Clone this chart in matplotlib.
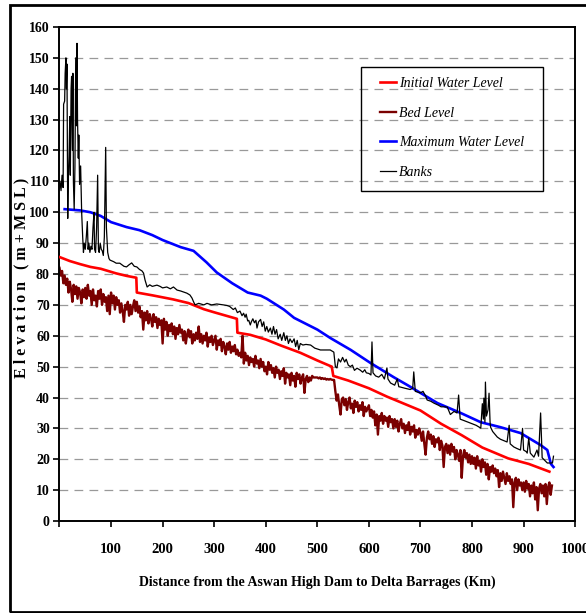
import matplotlib
matplotlib.use("Agg")
import matplotlib.pyplot as plt
from matplotlib.patches import Rectangle
import numpy as np

# distance (km) / elevation (m + MSL)
init_km = [0, 20, 40, 60, 80, 110, 130, 149, 150, 180, 220, 250, 280, 300, 344, 345,
           370, 400, 430, 467, 500, 528, 531, 560, 600, 635, 700, 740, 780, 820, 870, 910, 950]
init_wl = [85.5, 84.2, 83.2, 82.3, 81.7, 80.2, 79.4, 78.8, 74, 73.1, 71.8, 70.6, 68.6, 67.6, 65.5, 61,
           60.3, 58.8, 56.8, 54.5, 52, 50, 47, 45.5, 43, 40.3, 35.8, 31.5, 27.8, 23.8, 20.3, 18.5, 16]

max_km = [10, 40, 60, 80, 100, 130, 155, 180, 200, 235, 260, 285, 305, 335, 365, 390, 402,
          435, 455, 500, 525, 565, 603, 648, 675, 733, 778, 817, 855, 894, 933, 946, 953, 958]
max_wl = [101, 100.6, 100, 98.8, 96.8, 95.2, 94.2, 92.6, 91, 88.7, 87.5, 83.8, 80.5, 77, 74, 73, 72,
          68.5, 65.8, 62, 59.3, 55.4, 51.2, 46.6, 44, 38.2, 35, 32, 30.4, 28.5, 24.6, 23, 18.5, 17.5]

# bed level every 2.5 km from 0 to 955
bed = [82, 79.5, 81, 77, 79.5, 76.5, 78.5, 74, 77.5, 75, 71, 76.5, 73.5, 76, 72, 75.5, 74, 70.5, 75, 72.5,
       75.5, 72, 76.5, 73, 74.5, 70, 75, 71.5, 73, 69.5, 74.5, 72, 75, 70, 73.5, 71, 72.5, 68, 73, 67,
       74, 70.5, 73, 68.5, 72.5, 70, 71.5, 67.5, 70.5, 68, 64.5, 70, 68.5, 71, 66.5, 70, 67, 69.5, 71.5, 68,
       71, 67.5, 69.5, 66, 68, 62, 67.5, 65, 68, 64, 67, 65.5, 63, 67, 64.5, 66, 62.5, 65.5, 63.5, 65,
       57.5, 65.5, 62, 64.5, 60, 63.5, 61.5, 64, 60.5, 63, 59, 62.5, 60.5, 63.5, 61, 62, 58.5, 61.5, 57.5, 60.5,
       62, 59.5, 61.5, 57.5, 60.5, 58.5, 61, 59, 63, 58, 60.5, 57.5, 60, 58.5, 61, 56.5, 59.5, 58, 60, 57,
       58.5, 60, 55.5, 58.5, 57, 59, 55, 58, 56.5, 54, 57.5, 55.5, 58, 54.5, 56.5, 55, 57, 54, 55.5, 53.5,
       54.5, 53, 60, 51, 54.5, 52, 53.5, 50.5, 53, 51.5, 52.5, 50, 53.5, 51, 52, 49.5, 52.5, 50, 51.5, 48.5,
       50, 47.5, 51.5, 49, 50.5, 48, 49.5, 46.5, 50, 48, 49, 46, 48.5, 47, 49.5, 44.5, 48, 46.5, 47.5, 44,
       48, 45.5, 47, 43.5, 48, 46, 47.5, 44.5, 46.5, 47.5, 41.5, 46, 47, 45, 46.5, 45.5, 47, 46.5, 46.5, 46.5,
       46.5, 46.2, 46.5, 46, 46.3, 46, 46.2, 45.8, 46, 45.8, 46, 45.8, 45.7, 45.7, 42, 39, 41, 37.5, 34.5, 39.5,
       40, 37.5, 39.5, 36, 38.5, 40, 36.5, 38, 35, 39, 37, 38.5, 35.5, 37.5, 36, 38.5, 34, 37, 35.5, 36.5,
       37.5, 34, 36, 33.5, 35.5, 31, 34.5, 28, 34, 32.5, 35, 31.5, 34, 32.5, 33.5, 30.5, 34, 32, 33, 30,
       33, 30.5, 32.5, 29, 31.5, 33, 30, 31.5, 28.5, 31, 29.5, 32, 28, 30.5, 29, 31, 27, 29.5, 28, 30,
       28.5, 26, 29, 25, 21.5, 27, 29, 26.5, 28, 25, 27.5, 24, 26.5, 25.5, 27, 23, 26, 24.5, 17.5, 24,
       25, 22, 24.5, 21.5, 25, 22.5, 24, 20, 23, 21.5, 19.5, 23, 14, 21, 23, 20.5, 22, 19, 21.5, 18.5,
       21, 18.5, 20.5, 17, 21, 18, 19.5, 16, 20, 17.5, 19, 15, 18.5, 13.5, 17.5, 16, 18, 15.5, 17, 14.5,
       16.5, 11, 15.5, 13, 16, 14, 12, 15.5, 13, 14.5, 12, 13.5, 4.5, 12.5, 14, 10, 13.5, 11.5, 12.5, 10,
       12.5, 9.5, 13, 10.5, 12, 8, 11.5, 9, 12.5, 7, 11, 3.5, 10.5, 12, 9, 11.5, 8, 12, 5.5, 11,
       12.5, 8.5, 11.5]
bed_km = np.arange(len(bed)) * 2.5

banks_km = [1, 3, 5, 7, 8, 10, 11, 12.5, 13.5, 14.5, 16, 17, 18.5, 20, 21, 22.5, 23.5, 25, 26, 27,
            28.5, 30, 31.5, 33, 34, 35, 36.5, 37.5, 39, 41, 43, 45, 46.5, 48, 50, 52, 54, 55.5, 57,
            59, 61, 63, 65, 67, 68, 70, 72, 74, 75.5, 77, 79, 81, 83, 85, 87, 89.6, 91, 93.5, 96,
            98, 105, 110, 117, 125, 130, 135, 140, 145, 150, 155, 160, 163, 166, 170, 175, 180,
            189, 195, 200, 208, 215, 221, 228, 235, 240, 247, 253, 257, 260, 263, 270, 280, 286,
            295, 305, 318, 325, 330, 337, 341, 345, 350, 354, 357, 360, 362, 365, 367, 370, 372,
            375, 378, 381, 383, 386, 390, 393, 396, 399, 402, 405, 409, 412, 415, 418, 421, 424,
            428, 431, 435, 438, 441, 444, 447, 451, 455, 458, 461, 464, 467, 472, 478, 487, 495,
            506, 515, 525, 532, 535, 538, 541, 545, 549, 553, 556, 560, 564, 568, 572, 577, 583,
            588, 592, 595, 600, 604, 606, 608, 613, 619,
            625, 630, 635, 637, 642, 650, 655, 658, 661, 670, 680, 685, 687, 690, 700, 705, 710,
            713, 720, 726, 735, 740, 745, 752, 758, 765, 771, 774, 777, 785, 797, 808, 817, 820,
            822, 823, 825, 826, 828, 831, 833, 835, 836, 840, 849, 855, 862, 868, 872, 874, 881,
            887, 894, 898, 900, 905, 907, 910, 913, 920, 926, 929, 933, 936, 940, 946, 952, 956, 958]
banks = [110, 107, 112, 108, 135, 136, 145, 150, 140, 148, 98, 110, 118, 131, 112, 140, 144, 120, 145, 110,
         101, 115, 150, 128, 154.7, 130, 117.5, 125, 109, 115, 100, 92, 87, 90, 88, 92, 97, 88, 90,
         87, 89, 88, 95, 100, 88, 87, 95, 112, 88, 87, 90, 88, 87.5, 86, 92, 121, 95, 87, 85,
         84.5, 84, 83.5, 83.5, 82.5, 82.3, 83, 83.6, 82.5, 82.3, 81.5, 81, 80.3, 78, 75.8, 76.5, 76,
         76.4, 76, 75.5, 75.8, 75.2, 75.8, 74.8, 74.5, 74.2, 73.8, 73.2, 72.2, 71, 70, 70.5, 70, 70.5,
         70, 70.3, 70, 69.8, 69.5, 68.5, 69, 67.5, 68, 66.5, 67.3, 66, 67, 64.8, 65, 63.5, 64.5,
         65.5, 64.2, 65, 62.5, 64.5, 65.3, 63, 64.5, 61.5, 63, 61.2, 62.5, 60.5, 63, 60.5, 62, 59,
         60.5, 58.5, 61, 58.5, 60, 57.5, 59, 57.8, 59, 56.5, 58.5, 55.5, 57.5, 57, 57.2, 57, 56,
         55.4, 55.4, 55.4, 54.7, 50, 49.6, 52.5, 51.5, 53, 51.5, 52.4, 50.5, 50, 50.5, 48.8, 49.5, 48.9,
         48.2, 49, 48, 47.8, 47.3, 58, 48, 47, 46.6,
         47.5, 46, 49.6, 46, 44.7, 44, 46, 43.5, 43.4, 43, 42.6, 43, 48.3, 42, 41.5, 42, 40.5,
         39.2, 38.8, 38.2, 37.5, 37, 37, 36.9, 34.5, 35.5, 35, 40.8, 33, 32.5, 31.7, 31, 30.1, 38,
         33, 39.8, 32, 45, 34, 36, 41.4, 32, 30.4, 29, 27.2, 26.5, 26, 25.6, 31, 25, 24,
         23.5, 23, 30, 23, 22.5, 22, 26.9, 22, 20.7, 23, 21, 35, 20.5, 19.8, 18.8, 18.8, 18.8, 21]

labels = ['Initial Water Level', 'Bed Level', 'Maximum Water Level', 'Banks']

plt.rcParams['font.family'] = ['Liberation Serif', 'DejaVu Serif']

fig = plt.figure(figsize=(5.86, 6.13), dpi=100)
ax = fig.add_axes([0.1015, 0.150, 0.880, 0.806])

ax.plot(init_km, init_wl, color='#ff0000', lw=1.9, label=labels[0], zorder=3)
ax.plot(bed_km, bed, color='#7a0000', lw=1.7, label=labels[1], zorder=2)
ax.plot(max_km, max_wl, color='#0000ff', lw=1.9, label=labels[2], zorder=4)
ax.plot(banks_km, banks, color='black', lw=0.9, label=labels[3], zorder=5)

ax.set_xlim(0, 1000)
ax.set_ylim(0, 160)
ax.set_xticks(np.arange(0, 1001, 100))
ax.set_xticklabels([''] + [str(v) for v in range(100, 1001, 100)])
ax.set_yticks(np.arange(0, 161, 10))
for s in ax.spines.values():
    s.set_linewidth(1.4)
ax.tick_params(axis='x', direction='out', length=4, width=1.2, pad=12, labelsize=10.5)
ax.tick_params(axis='y', direction='out', length=4, width=1.2, pad=3, labelsize=10)
for lab in ax.get_xticklabels() + ax.get_yticklabels():
    lab.set_fontweight('bold')

for y in range(10, 160, 10):
    ax.axhline(y, color='#999999', lw=0.9, ls=(0, (7, 5)), zorder=1)

ax.set_xlabel('Distance from the Aswan High Dam to Delta Barrages (Km)',
              fontsize=10, fontweight='bold', labelpad=14)
ax.set_ylabel('E l e v a t i o n   ( m + M S L )', fontsize=11.5, fontweight='bold')
ax.yaxis.set_label_coords(-0.059, 0.492)

leg = fig.legend(loc='upper left', bbox_to_anchor=(380 / 586, 1 - 77 / 613),
                 bbox_transform=fig.transFigure, frameon=False, borderpad=0, borderaxespad=0,
                 handlelength=1.15, handletextpad=0.2, labelspacing=1.2,
                 prop={'style': 'italic', 'size': 10})
fig.patches.append(Rectangle((361 / 586, 1 - 191 / 613), 182 / 586, 124 / 613,
                             transform=fig.transFigure, fill=False, edgecolor='black', lw=1))

fig.patches.append(Rectangle((10 / 586, 1 / 613), 1.2, 607 / 613, transform=fig.transFigure,
                             fill=False, edgecolor='black', lw=2, zorder=0))

fig.savefig('out.png', dpi=100)
